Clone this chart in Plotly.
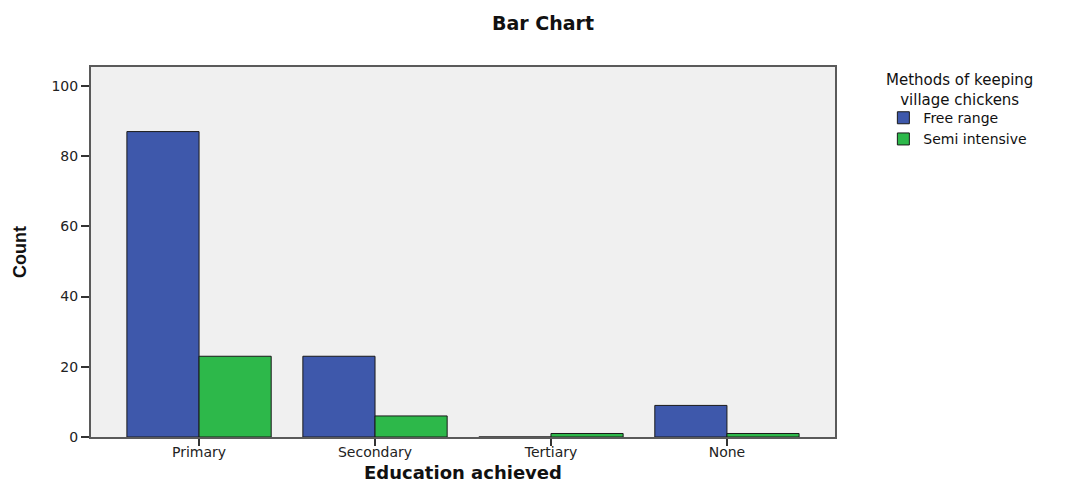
import plotly.graph_objects as go

categories = ["Primary", "Secondary", "Tertiary", "None"]
free_range = [87, 23, 0, 9]
semi_intensive = [23, 6, 1, 1]
series_names = ["Free range", "Semi intensive"]
y_ticks = [0, 20, 40, 60, 80, 100]
legend_title = "Methods of keeping<br>village chickens"

blue = "#3e58ab"
green = "#2db84a"
wide_font = "DejaVu Sans, Verdana, sans-serif"
tick_font = dict(family=wide_font, size=14, color="#222")

fig = go.Figure()
fig.add_trace(go.Bar(x=categories, y=free_range, name=series_names[0],
                     marker=dict(color=blue, line=dict(color="#1a1a1a", width=1))))
fig.add_trace(go.Bar(x=categories, y=semi_intensive, name=series_names[1],
                     marker=dict(color=green, line=dict(color="#1a1a1a", width=1))))

# page body has an 8px margin, so the figure is sized/offset to compensate
fig.update_layout(
    width=1068, height=476,
    margin=dict(l=83, r=241, t=59, b=47, autoexpand=False),
    paper_bgcolor="white",
    plot_bgcolor="#f0f0f0",
    barmode="group",
    bargap=0.18,
    bargroupgap=0,
    title=dict(text="<b>Bar Chart</b>", x=0.501, xanchor="center", y=0.968, yanchor="middle",
               font=dict(family=wide_font, size=19, color="#111")),
    xaxis=dict(
        range=[-0.614, 3.614],
        showline=True, linecolor="#5a5a5a", linewidth=2, mirror=True,
        ticks="outside", ticklen=7, tickcolor="#333", tickwidth=1.5,
        tickfont=tick_font,
        ticklabelstandoff=-6,
        automargin=False,
        title=dict(text="<b>Education achieved</b>", standoff=8,
                   font=dict(family=wide_font, size=18, color="#111")),
        showgrid=False, zeroline=False,
    ),
    yaxis=dict(
        range=[0, 105.4],
        tickvals=y_ticks,
        showline=True, linecolor="#5a5a5a", linewidth=2, mirror=True,
        ticks="outside", ticklen=8, tickcolor="#333", tickwidth=1.5,
        tickfont=tick_font,
        automargin=False,
        title=dict(text="<b>Count</b>", standoff=20,
                   font=dict(family="Liberation Sans Narrow, Arial Narrow, Liberation Sans, sans-serif", size=18, color="#111")),
        showgrid=False, zeroline=False,
    ),
    legend=dict(
        x=1.065, xanchor="left", y=0.905, yanchor="top",
        font=dict(family=wide_font, size=14, color="#111"),
        bgcolor="rgba(0,0,0,0)",
        tracegroupgap=0,
    ),
    showlegend=True,
)
fig.add_annotation(
    text=legend_title, xref="paper", yref="paper", x=1.168, y=0.938,
    xanchor="center", yanchor="middle", showarrow=False, align="center",
    font=dict(family=wide_font, size=15, color="#111"),
)

fig.write_html("out.html")
